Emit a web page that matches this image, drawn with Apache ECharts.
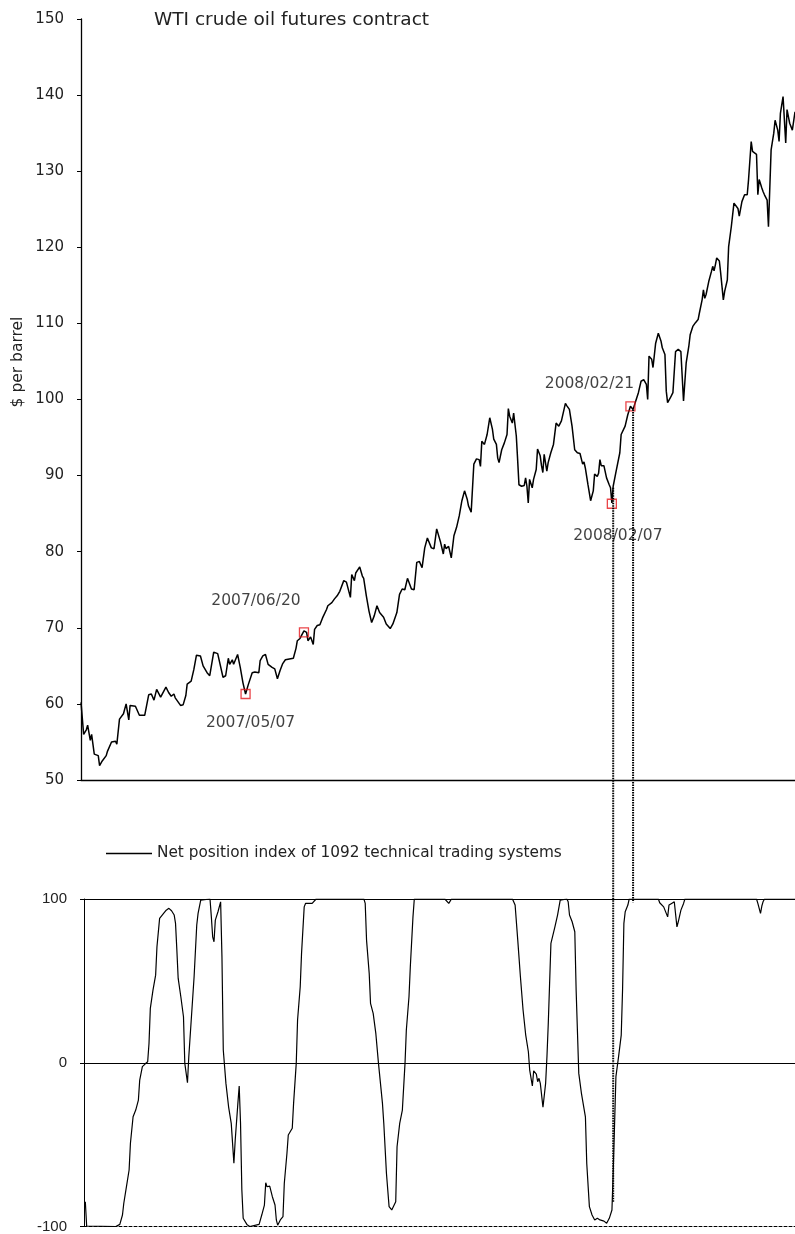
<!DOCTYPE html>
<html>
<head>
<meta charset="utf-8">
<script src="https://cdn.jsdelivr.net/npm/echarts@6/dist/echarts.min.js"></script>
<style>
html,body{margin:0;padding:0;background:#fff;}
#c{width:795px;height:1234px;}
</style>
</head>
<body>
<div id="c"></div>
<script>
// Calendar days counted from 2007/01/03
const titleText = 'WTI crude oil futures contract';
const yName = '$ per barrel';
const legendName = 'Net position index of 1092 technical trading systems';

const priceDays = [0,2,4,5,7,8,10,13,14,16,17,19,20,21,23,26,27,29,32,34,36,37,41,42,44,48,51,53,55,57,60,61,64,66,68,70,71,72,75,77,79,80,83,85,87,90,92,95,97,100,103,107,109,111,112,114,115,118,120,122,124,126,129,131,134,135,137,139,141,144,146,148,150,152,154,157,160,162,163,165,168,170,171,173,175,176,178,180,182,185,186,189,191,193,195,198,200,203,204,206,207,210,212,213,215,217,219,221,223,225,228,230,233,235,238,240,242,244,246,247,249,251,253,255,257,259,261,262,264,266,268,269,271,273,274,275,277,279,281,283,285,287,289,291,292,293,294,296,298,300,301,302,304,306,308,310,311,313,314,315,317,319,321,322,323,325,326,328,329,330,332,334,335,336,337,338,340,341,343,344,346,347,348,349,351,352,354,356,358,360,362,365,366,368,370,371,372,374,376,378,379,380,382,384,386,387,389,390,391,392,394,396,398,399,400,401,403,406,407,410,412,414,416,418,420,422,424,426,427,428,430,431,433,435,437,438,439,440,441,442,444,446,448,450,452,454,456,458,459,461,463,465,466,468,469,470,471,473,475,476,477,478,479,481,482,484,485,487,488,490,492,493,495,496,498,500,502,503,505,506,507,509,510,511,513,514,515,517,518,520,522,523,525,526,527,529,531,532,534,536,538];
const priceVals = [60.2,56.0,56.6,57.2,55.2,56.0,53.4,53.2,51.9,52.5,52.3,53.2,53.8,53.6,55.0,55.1,54.7,58.0,58.7,60.0,57.9,59.8,59.7,59.8,58.5,58.5,61.2,61.3,60.5,61.9,60.9,60.7,62.2,61.5,61.0,61.3,60.8,60.6,59.8,59.9,61.1,62.6,63.0,64.5,66.4,66.3,65.0,64.1,63.7,66.8,66.6,63.5,63.7,66.0,65.2,65.8,65.2,66.5,64.8,62.8,61.3,62.5,64.1,64.2,64.1,65.7,66.3,66.5,65.2,64.8,64.6,63.3,64.4,65.3,65.8,65.9,66.0,67.3,68.3,68.6,69.6,69.4,68.3,68.8,67.8,69.8,70.3,70.4,71.3,72.4,72.9,73.3,73.8,74.2,74.8,76.2,76.0,74.0,77.0,76.2,77.2,78.0,76.8,76.5,74.2,72.2,70.7,71.6,72.9,72.0,71.4,70.5,69.9,70.5,72.0,74.4,75.1,75.0,76.5,76.4,75.1,75.0,78.6,78.7,77.9,80.5,81.8,81.7,80.5,80.4,83.0,82.8,81.2,79.7,81.0,80.4,80.7,79.2,82.1,83.2,84.7,86.7,88.0,86.9,86.0,86.2,85.2,91.5,92.2,92.1,91.2,94.5,94.1,95.4,97.6,96.1,94.8,94.1,92.3,91.7,93.4,94.3,95.4,98.8,97.8,96.9,98.2,95.2,92.1,88.8,88.6,88.7,89.7,88.6,86.4,89.5,88.4,89.5,90.8,93.5,92.6,91.3,90.4,92.8,90.6,91.7,93.0,94.1,96.9,96.5,97.2,99.5,99.2,98.7,96.5,96.5,93.4,93.0,92.9,91.5,91.8,91.0,88.8,86.7,88.0,90.2,89.9,90.3,92.1,91.3,91.3,89.7,88.8,88.4,86.4,88.6,90.4,93.0,95.4,96.5,98.0,99.1,98.7,99.8,100.9,102.4,102.6,102.0,100.0,105.7,105.3,104.2,107.4,108.7,107.7,106.8,107.0,105.9,101.1,99.6,100.2,100.9,106.3,106.6,106.3,99.8,104.8,107.0,108.5,109.6,110.1,110.5,111.4,113.1,114.4,113.3,113.8,115.5,116.8,117.5,116.9,117.7,118.6,118.2,116.6,113.1,114.2,115.7,120.1,122.7,125.8,125.8,125.1,124.1,126.0,126.9,126.9,128.9,133.9,132.6,132.4,132.2,126.9,128.9,127.8,127.3,126.9,126.2,122.7,132.8,135.0,136.7,135.4,133.9,137.6,139.8,133.7,138.1,136.3,135.4,137.8];

const indexDays = [3,4,26,29,31,32,34,36,37,39,41,43,44,46,48,50,51,52,54,56,57,59,62,64,66,68,70,71,72,73,75,77,78,80,81,83,85,87,88,90,91,97,98,99,100,101,103,105,106,107,109,111,112,113,115,116,118,119,120,121,122,125,127,134,136,138,139,140,142,144,146,147,148,150,152,153,155,156,159,160,162,163,165,166,168,169,171,172,174,175,177,213,214,215,217,218,220,222,224,227,228,230,232,234,235,237,238,240,242,244,245,247,248,250,251,274,277,279,325,327,329,331,333,335,337,338,340,341,343,344,345,346,348,350,351,352,354,357,359,361,362,366,367,368,370,372,373,375,377,380,381,383,385,387,389,391,392,394,396,398,400,401,402,403,405,407,408,409,410,412,413,435,436,439,440,442,443,445,447,449,450,452,454,455,509,510,512,513,514,515,538];
const indexVals = [-84.9,-99.7,-100,-98.7,-93,-85.8,-75.7,-65.5,-49.2,-33,-28.9,-22.8,-10.6,-2.4,-0.8,0.6,11.8,33.2,44.4,53.5,70.8,88.2,91.2,93.2,94.3,92.8,90.2,85.1,68.8,51.5,40.3,28.1,-0.4,-12.2,3.7,28.1,52.5,84.1,91.2,99.3,100,100,89.1,76.9,73.9,87.1,92.2,98.3,64.7,7.8,-12.6,-26.9,-25.8,-37,-61.4,-47.2,-24.8,-14.2,-37,-77.7,-95,-99,-100,-98.7,-93,-86.9,-73.3,-75.7,-75.3,-81.8,-86.9,-96,-99.2,-96,-94,-73.6,-55.3,-44.1,-40,-24.8,-0.4,26.1,46.4,66.8,95.2,97.3,97.3,97.9,97.3,98.5,100,100,97.3,74.9,54.6,36.3,30.2,17.9,-0.4,-24.8,-37,-67.5,-87.9,-89.9,-90.9,-84.9,-51.3,-37,-28.9,-0.4,20,40.3,58.6,89.1,100,100,97.3,100,100,96.3,74.9,52.5,32.2,16.9,6.7,-4.5,-14.2,-4.9,-6.9,-11.6,-9.5,-12.6,-27.2,-12.6,3.7,24,72.9,83,90.2,99.3,100,100,98.3,90.2,86.1,80,44.4,-6.5,-18.7,-33,-61.4,-87.9,-93,-96,-95,-96,-97.1,-96.7,-98,-95,-89.9,-65.5,-37,-8.5,3.7,16.9,44.4,85.1,92.2,96.3,100,100,97.7,95.2,94.3,89.1,96.3,97.3,98.3,83,86.1,93.2,97.3,100,100,97.3,91.2,95.7,98.5,100,100];

const markerDates = ['2007/05/07','2007/06/20','2008/02/07','2008/02/21'];
const markerDays = [124,168,400,414];
const markerVals = [61.3,69.4,86.3,99.1];

const connectorDays = [401,416];
const connectorTop = [88.4,98.7];
const connectorBottom = [-85,98];

const priceTicks = {min:50, max:150, interval:10};
const indexTicks = {min:-100, max:100, interval:100};
const dayRangeTop = [0,538];
const dayRangeBottom = [2,538];

const FONT = 'DejaVu Sans';
const chart = echarts.init(document.getElementById('c'), null, {renderer:'canvas'});

const labelPos = [
  {offset:[5,29]},
  {offset:[-48,-31]},
  {offset:[6,32]},
  {offset:[-41,-22]}
];

const option = {
  animation:false,
  backgroundColor:'#fff',
  title:{text:titleText, left:149, top:6,
    textStyle:{fontFamily:FONT, fontSize:18.5, fontWeight:'normal', color:'#222'}},
  legend:{data:[legendName], left:106, top:846, padding:0, icon:'rect', itemWidth:46, itemHeight:1.4,
    itemGap:0,
    textStyle:{fontFamily:FONT, fontSize:15.3, color:'#222', padding:[0,0,0,0]}},
  grid:[
    {left:81, right:0, top:19, height:761},
    {left:84, right:0, top:899, height:328}
  ],
  xAxis:[
    {type:'value', gridIndex:0, min:dayRangeTop[0], max:dayRangeTop[1],
      axisLine:{show:true, onZero:false, lineStyle:{color:'#000', width:1.3}},
      axisTick:{show:false}, axisLabel:{show:false}, splitLine:{show:false}},
    {type:'value', gridIndex:1, min:dayRangeBottom[0], max:dayRangeBottom[1],
      axisLine:{show:true, onZero:false, lineStyle:{color:'#000', width:1, type:[3,2]}},
      axisTick:{show:false}, axisLabel:{show:false}, splitLine:{show:false}}
  ],
  yAxis:[
    {type:'value', gridIndex:0, min:priceTicks.min, max:priceTicks.max, interval:priceTicks.interval,
      axisLine:{show:true, lineStyle:{color:'#000', width:1.3}},
      axisTick:{show:true, inside:false, length:4, lineStyle:{color:'#000'}},
      axisLabel:{margin:17, fontFamily:FONT, fontSize:15, color:'#222'},
      splitLine:{show:false}},
    {type:'value', gridIndex:1, min:indexTicks.min, max:indexTicks.max, interval:indexTicks.interval,
      axisLine:{show:true, lineStyle:{color:'#000', width:1}},
      axisTick:{show:true, inside:false, length:4, lineStyle:{color:'#000'}},
      axisLabel:{margin:17, fontFamily:'Liberation Sans', fontSize:15, color:'#222'},
      splitLine:{show:true, showMinLine:false, lineStyle:{color:'#000', width:1.2}}}
  ],
  series:[
    {type:'line', name:'WTI', xAxisIndex:0, yAxisIndex:0, symbol:'none',
      data:priceDays.map((d,i)=>[d, priceVals[i]]),
      lineStyle:{color:'#000', width:1.5}, itemStyle:{color:'#000'}, z:3},
    {type:'scatter', name:'markers', xAxisIndex:0, yAxisIndex:0, symbol:'rect', symbolSize:9,
      itemStyle:{color:'rgba(0,0,0,0)', borderColor:'#e5161c', borderWidth:1.3},
      data:markerDays.map((d,i)=>({value:[d, markerVals[i]],
        label:{show:true, position:'inside', offset:labelPos[i].offset, formatter:markerDates[i],
          fontFamily:FONT, fontSize:15.5, color:'#111', textBorderWidth:0}})),
      z:5},
    {type:'line', name:legendName, xAxisIndex:1, yAxisIndex:1, symbol:'none',
      data:indexDays.map((d,i)=>[d, indexVals[i]]),
      lineStyle:{color:'#000', width:1.2}, itemStyle:{color:'#000'}, z:3}
  ]
};
chart.setOption(option);

const graphics = [{
  type:'text', x:18, y:362, rotation:Math.PI/2,
  style:{text:yName, fontFamily:FONT, fontSize:15.5, fill:'#222', align:'center', verticalAlign:'middle'}
}];
connectorDays.forEach((d,i)=>{
  const pTop = chart.convertToPixel({xAxisIndex:0, yAxisIndex:0}, [d, connectorTop[i]]);
  const pBot = chart.convertToPixel({xAxisIndex:1, yAxisIndex:1}, [d, connectorBottom[i]]);
  graphics.push({type:'line', z:10,
    shape:{x1:pTop[0], y1:pTop[1], x2:pTop[0], y2:pBot[1]},
    style:{stroke:'#000', lineWidth:2, lineDash:[1.5,1]}});
});
chart.setOption({graphic:graphics});
</script>
</body>
</html>
